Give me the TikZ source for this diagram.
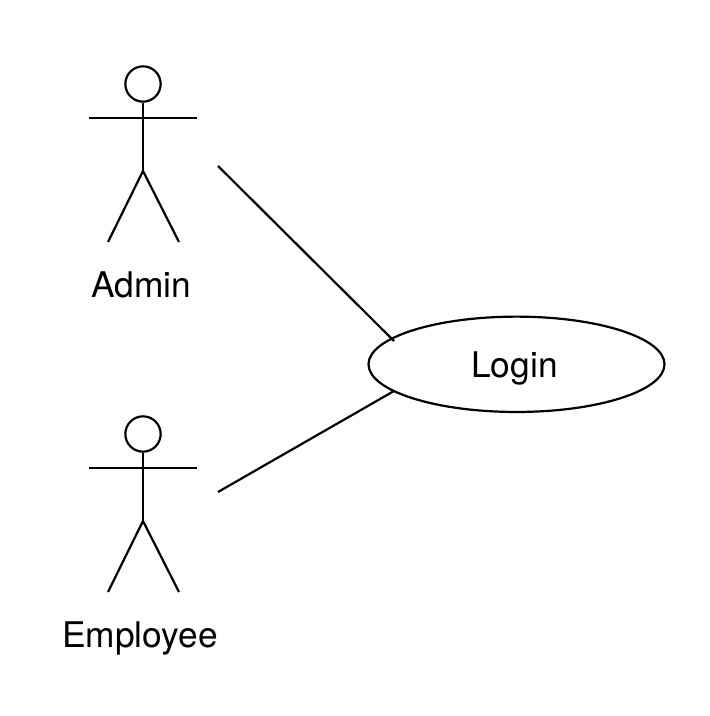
\documentclass[tikz,border=0pt]{standalone}
\usepackage{fontspec}
\setmainfont{TeX Gyre Heros}
\usetikzlibrary{shapes.geometric}
\tikzset{
  ln/.style={line width=1.65pt,black,line cap=butt},
  lbl/.style={inner sep=0pt,anchor=base,font=\fontsize{26.5}{29}\selectfont},
  head/.style={circle,draw,line width=1.65pt,minimum size=26.5pt,inner sep=0pt},
  usecase/.style={ellipse,draw,line width=1.65pt,minimum width=222pt,minimum height=71.5pt,inner sep=0pt}
}
\begin{document}
\begin{tikzpicture}[x=0.75pt,y=-0.75pt]
\useasboundingbox (0,0) rectangle (709,716);
% Admin
\node[head] (h1) at (143,84) {};
\coordinate (n1) at (143,171);
\coordinate (a1l) at (89,118);
\coordinate (a1r) at (197,118);
\coordinate (l1l) at (108,242);
\coordinate (l1r) at (179,242);
\draw[ln] (h1.south) -- (n1);
\draw[ln] (a1l) -- (a1r);
\draw[ln,line join=round] (l1l) -- (n1) -- (l1r);
\node[lbl] (t1) at (141,297) {Admin};
% Employee
\node[head] (h2) at (143,434) {};
\coordinate (n2) at (143,521);
\coordinate (a2l) at (89,468);
\coordinate (a2r) at (197,468);
\coordinate (l2l) at (108,592);
\coordinate (l2r) at (179,592);
\draw[ln] (h2.south) -- (n2);
\draw[ln] (a2l) -- (a2r);
\draw[ln,line join=round] (l2l) -- (n2) -- (l2r);
\node[lbl] (t2) at (140,647) {Employee};
% Use case
\node[usecase] (uc) at (516.5,364.3) {};
\node[lbl] (t3) at (514.5,377) {Login};
\coordinate (c1s) at (218,166);
\coordinate (c1e) at (394,341);
\coordinate (c2s) at (218,492);
\coordinate (c2e) at (394,391);
\draw[ln] (c1s) -- (c1e);
\draw[ln] (c2s) -- (c2e);
\end{tikzpicture}
\end{document}
